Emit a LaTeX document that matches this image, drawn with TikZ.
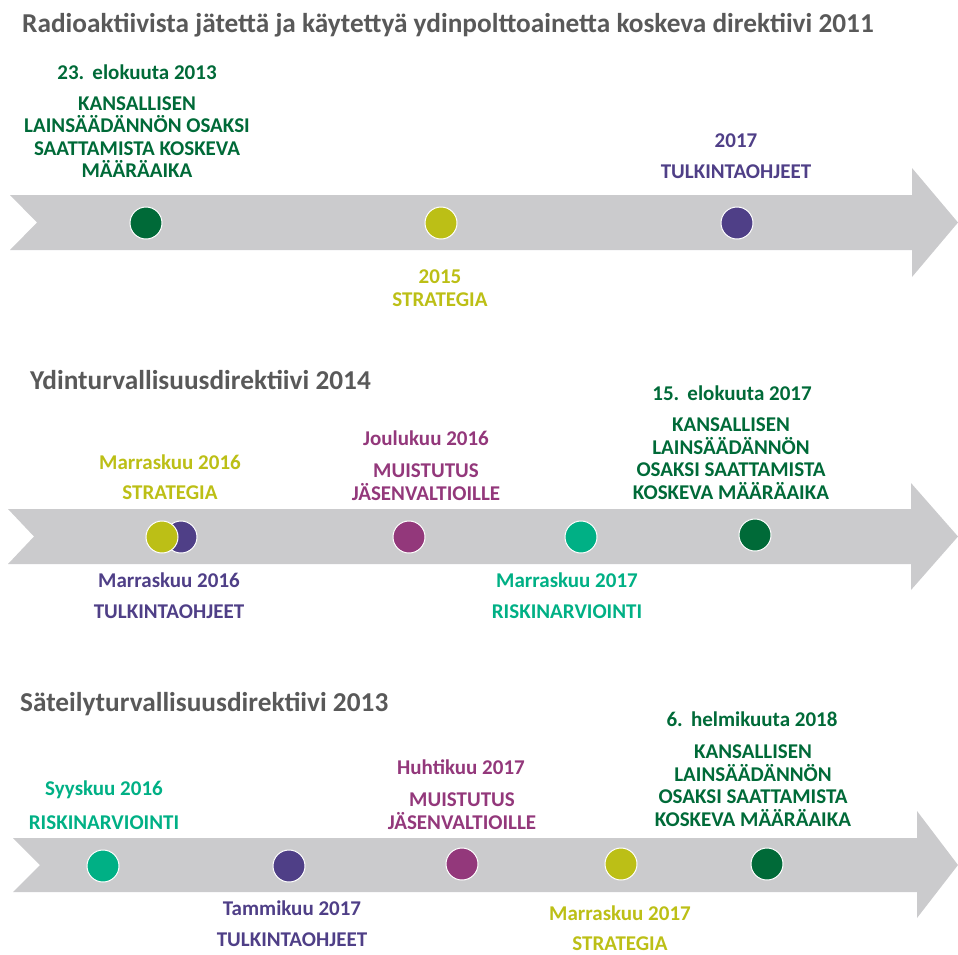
\documentclass[tikz,border=0pt]{standalone}
\usepackage{fontspec}
\setmainfont{Carlito}
\definecolor{arrowgray}{HTML}{CBCBCD}
\definecolor{headgray}{HTML}{595959}
\definecolor{dgreen}{HTML}{006A38}
\definecolor{olive}{HTML}{BCBF16}
\definecolor{violet}{HTML}{4F3F87}
\definecolor{plum}{HTML}{93387B}
\definecolor{teal}{HTML}{00B085}
\tikzset{
	heading/.style={anchor=west, inner sep=0pt, text=headgray, font=\fontsize{27.3}{30}\selectfont\bfseries},
	date/.style={inner sep=0pt, font=\fontsize{21}{22.5}\selectfont\bfseries},
	what/.style={inner sep=0pt, align=center, font=\fontsize{21}{22.5}\selectfont\bfseries},
	dot/.style={circle, minimum size=32pt, inner sep=0pt, draw=white, line width=1pt}
}
\begin{document}
\begin{tikzpicture}[x=1pt, y=-1pt]
		\useasboundingbox (0, 0) rectangle (958, 954);

		%%%%%%%%%%%%%%%%%%%%%%%%%%%% direktiivi 2011
		\node[heading] (h1) at(22, 25){Radioaktiivista jätettä ja käytettyä ydinpolttoainetta koskeva direktiivi 2011};
		\fill[arrowgray] (10, 195) -- (912, 195) -- (912, 168) -- (958, 222.5) -- (912, 277) -- (912, 250) -- (10, 250) -- (37, 222.5) -- cycle;
			\node[dot, fill=dgreen] (a1) at(146, 223){};
			\node[dot, fill=olive] (a2) at(441, 223){};
			\node[dot, fill=violet] (a3) at(737, 223){};

			\node[date, text=dgreen] (a1d) at(137, 72){23.\ \,elokuuta 2013};
			\node[what, text=dgreen] (a1t) at(137, 137){KANSALLISEN\\LAINSÄÄDÄNNÖN OSAKSI\\SAATTAMISTA KOSKEVA\\MÄÄRÄAIKA};
			\node[date, text=olive] (a2d) at(440, 277){2015};
			\node[what, text=olive] (a2t) at(440, 300){STRATEGIA};
			\node[date, text=violet] (a3d) at(736, 141){2017};
			\node[what, text=violet] (a3t) at(736, 172){TULKINTAOHJEET};

		%%%%%%%%%%%%%%%%%%%%%%%%%%%% direktiivi 2014
		\node[heading] (h2) at(30, 380){Ydinturvallisuusdirektiivi 2014};
		\fill[arrowgray] (8, 509) -- (911, 509) -- (911, 483) -- (958, 536.5) -- (911, 590) -- (911, 564) -- (8, 564) -- (34, 536.5) -- cycle;
			\node[dot, fill=violet] (b2) at(181, 537){};
			\node[dot, fill=olive] (b1) at(162, 537){};
			\node[dot, fill=plum] (b3) at(409, 537){};
			\node[dot, fill=teal] (b4) at(581, 537){};
			\node[dot, fill=dgreen] (b5) at(755, 535){};

			\node[date, text=olive] (b1d) at(170, 462){Marraskuu 2016};
			\node[what, text=olive] (b1t) at(170, 493){STRATEGIA};
			\node[date, text=violet] (b2d) at(169, 580){Marraskuu 2016};
			\node[what, text=violet] (b2t) at(169, 612){TULKINTAOHJEET};
			\node[date, text=plum] (b3d) at(426, 438){Joulukuu 2016};
			\node[what, text=plum] (b3t) at(426, 482){MUISTUTUS\\JÄSENVALTIOILLE};
			\node[date, text=teal] (b4d) at(567, 580){Marraskuu 2017};
			\node[what, text=teal] (b4t) at(567, 612){RISKINARVIOINTI};
			\node[date, text=dgreen] (b5d) at(732, 393){15.\ \,elokuuta 2017};
			\node[what, text=dgreen] (b5t) at(731, 458.5){KANSALLISEN\\LAINSÄÄDÄNNÖN\\OSAKSI SAATTAMISTA\\KOSKEVA MÄÄRÄAIKA};

		%%%%%%%%%%%%%%%%%%%%%%%%%%%% direktiivi 2013
		\node[heading] (h3) at(20, 704){Säteilyturvallisuusdirektiivi 2013};
		\fill[arrowgray] (13, 838) -- (917, 838) -- (917, 811) -- (958, 865) -- (917, 918) -- (917, 892) -- (13, 892) -- (40, 865) -- cycle;
			\node[dot, fill=teal] (c1) at(103, 866){};
			\node[dot, fill=violet] (c2) at(289, 866){};
			\node[dot, fill=plum] (c3) at(462, 864){};
			\node[dot, fill=olive] (c4) at(621, 864){};
			\node[dot, fill=dgreen] (c5) at(767, 864){};

			\node[date, text=teal] (c1d) at(104, 790){Syyskuu 2016};
			\node[what, text=teal] (c1t) at(104, 823){RISKINARVIOINTI};
			\node[date, text=violet] (c2d) at(292, 908){Tammikuu 2017};
			\node[what, text=violet] (c2t) at(292, 940){TULKINTAOHJEET};
			\node[date, text=plum] (c3d) at(461, 767){Huhtikuu 2017};
			\node[what, text=plum] (c3t) at(462, 811){MUISTUTUS\\JÄSENVALTIOILLE};
			\node[date, text=olive] (c4d) at(620, 913){Marraskuu 2017};
			\node[what, text=olive] (c4t) at(620, 944){STRATEGIA};
			\node[date, text=dgreen] (c5d) at(752, 719){6.\ \,helmikuuta 2018};
			\node[what, text=dgreen] (c5t) at(753, 785.5){KANSALLISEN\\LAINSÄÄDÄNNÖN\\OSAKSI SAATTAMISTA\\KOSKEVA MÄÄRÄAIKA};
\end{tikzpicture}
\end{document}
